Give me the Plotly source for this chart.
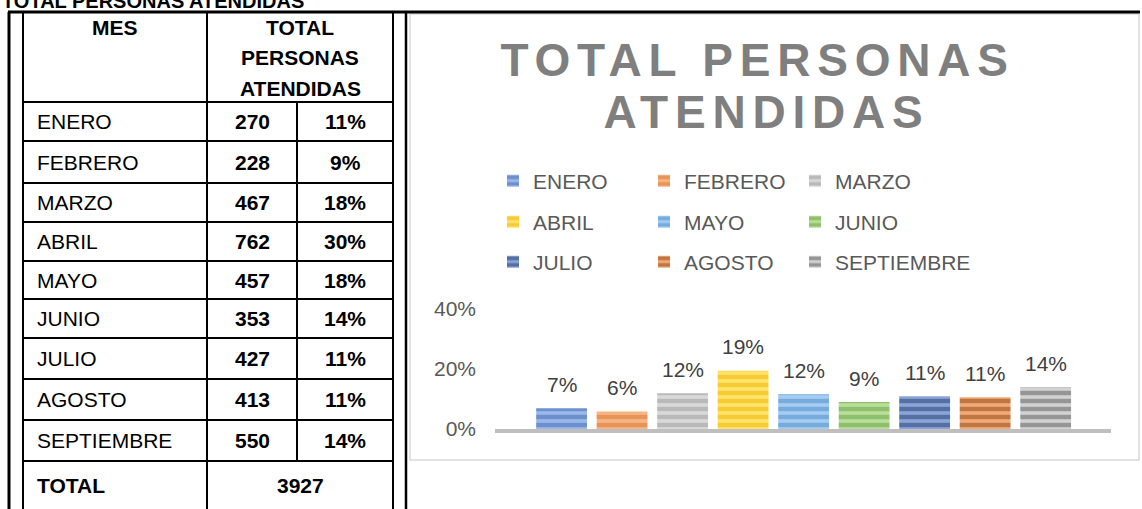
import plotly.graph_objects as go

W, H = 1142, 509

# ---------------- data ----------------
meses = ["ENERO", "FEBRERO", "MARZO", "ABRIL", "MAYO", "JUNIO", "JULIO", "AGOSTO", "SEPTIEMBRE"]
personas = [270, 228, 467, 762, 457, 353, 427, 413, 550]
pct_tabla = ["11%", "9%", "18%", "30%", "18%", "14%", "11%", "11%", "14%"]
total_personas = 3927
pct_grafico = [0.069, 0.058, 0.119, 0.194, 0.116, 0.090, 0.109, 0.106, 0.140]
y_ticks = [0, 0.2, 0.4]
titulo = "TOTAL PERSONAS ATENDIDAS"
titulo_grafico = ["TOTAL PERSONAS", "ATENDIDAS"]
encabezado_mes = "MES"
encabezado_total = ["TOTAL", "PERSONAS", "ATENDIDAS"]
etiqueta_total = "TOTAL"

# ---------------- styles ----------------
col_oscuro = ["#3f67ad", "#d9712c", "#9a9a9a", "#f0b400", "#4a89c6", "#659d3f",
              "#203a68", "#8a420e", "#575757"]
col_claro = ["#9bb8ec", "#f6b584", "#d9d9d9", "#ffe36a", "#a3cdf2", "#b8df98",
             "#8aa4da", "#f3aa76", "#d2d2d2"]
FONT = "Liberation Sans, Arial, sans-serif"


def px(x):
    return x / W


def py(y):
    return 1 - y / H


fig = go.Figure()

for i, m in enumerate(meses):
    fig.add_trace(go.Bar(
        x=[m], y=[pct_grafico[i]], name=m, width=0.84,
        marker=dict(color=col_claro[i], line=dict(width=0),
                    pattern=dict(shape="-", fgcolor=col_oscuro[i], bgcolor=col_claro[i],
                                 size=8, solidity=0.55)),
        legend=["legend", "legend2", "legend3"][i // 3],
        legendwidth=106 if i % 3 < 2 else 160,
        hoverinfo="skip",
    ))

shapes = []
BLACK = "#000000"


def line(x0, y0, x1, y1, w=2, c=BLACK):
    shapes.append(dict(type="line", xref="paper", yref="paper",
                       x0=px(x0), y0=py(y0), x1=px(x1), y1=py(y1),
                       line=dict(color=c, width=w)))


# chart area box
shapes.append(dict(type="rect", xref="paper", yref="paper", layer="below",
                   x0=px(410), y0=py(460), x1=px(1139), y1=py(14),
                   line=dict(color="#d9d9d9", width=1.5), fillcolor="white"))

# table frame
line(8, 12, 1140, 12, 3)
line(9, 12, 9, 509, 3)
line(23, 12, 23, 509, 2)
line(393, 12, 393, 509, 2)
line(406, 12, 406, 509, 2.5)
line(207, 12, 207, 509, 2)
row_lines = [102, 141, 183, 222, 261, 299, 338, 379, 420, 461]
line(297, row_lines[0], 297, row_lines[-1], 2)
for yl in row_lines:
    line(23, yl, 393, yl, 2)

ann = []


def text(x, y, s, size=21, bold=False, color=BLACK, xanchor="center"):
    ann.append(dict(xref="paper", yref="paper", x=px(x), y=py(y), text=s,
                    showarrow=False, xanchor=xanchor, yanchor="middle",
                    font=dict(family=FONT, size=size, color=color,
                              weight="bold" if bold else "normal")))


# cut-off document heading (partly outside the page, as in the source)
text(0, 1.5, titulo, size=20, bold=True, xanchor="left")

# table header
text(115, 27, encabezado_mes, bold=True)
for k, s in enumerate(encabezado_total):
    text(300, 28 + 30 * k, s, bold=True)

for i, m in enumerate(meses):
    yc = (row_lines[i] + row_lines[i + 1]) / 2
    text(35, yc, m, xanchor="left")
    text(252, yc, str(personas[i]), bold=True)
    text(345, yc, pct_tabla[i], bold=True)

yc_total = (row_lines[-1] + 509) / 2
text(35, yc_total, etiqueta_total, bold=True, xanchor="left")
text(300, yc_total, str(total_personas), bold=True)

# chart title (two lines)
title_idx = []
title_x = [757, 766]
for k, s in enumerate(titulo_grafico):
    title_idx.append(len(ann))
    text(title_x[k], 60 + 52 * k, s, size=46, bold=True, color="#7f7f7f")

# data labels
for i, m in enumerate(meses):
    ann.append(dict(xref="x", yref="y", x=m, y=pct_grafico[i],
                    text=f"{pct_grafico[i] * 100:.0f}%", showarrow=False,
                    yanchor="middle", yshift=24,
                    font=dict(family=FONT, size=21, color="#404040")))

leg_common = dict(orientation="h", xanchor="left", yanchor="middle",
                  entrywidth=106, entrywidthmode="pixels",
                  font=dict(family=FONT, size=21, color="#595959"),
                  bgcolor="rgba(0,0,0,0)", itemwidth=30)

fig.update_layout(
    width=W, height=H,
    margin=dict(l=0, r=0, t=0, b=0, pad=0, autoexpand=False),
    paper_bgcolor="white", plot_bgcolor="rgba(0,0,0,0)",
    barmode="overlay",
    showlegend=True,
    legend=dict(x=px(493), y=py(181), **leg_common),
    legend2=dict(x=px(493), y=py(222), **leg_common),
    legend3=dict(x=px(493), y=py(262), **leg_common),
    xaxis=dict(domain=[px(495), px(1111)], range=[-1.1, 9.08], type="category",
               categoryorder="array", categoryarray=meses, automargin=False,
               showticklabels=False, showgrid=False, zeroline=False,
               showline=True, linecolor="#bfbfbf", linewidth=4, fixedrange=True),
    yaxis=dict(domain=[py(429), py(309)], range=[0, 0.4], tickvals=y_ticks,
               tickformat=".0%", showgrid=False, zeroline=False, showline=False,
               automargin=False,
               tickfont=dict(family=FONT, size=21, color="#595959"),
               ticklabelstandoff=18, fixedrange=True),
    shapes=shapes,
    annotations=ann,
)

sel = ",".join("g.annotation[data-index=\"%d\"] text" % k for k in title_idx)
post = ("document.body.style.margin='0';"
        "document.querySelectorAll('%s')"
        ".forEach(function(t){t.style.letterSpacing='6.8px';});" % sel)
fig.write_html("out.html", post_script=post, config={"displayModeBar": False})
